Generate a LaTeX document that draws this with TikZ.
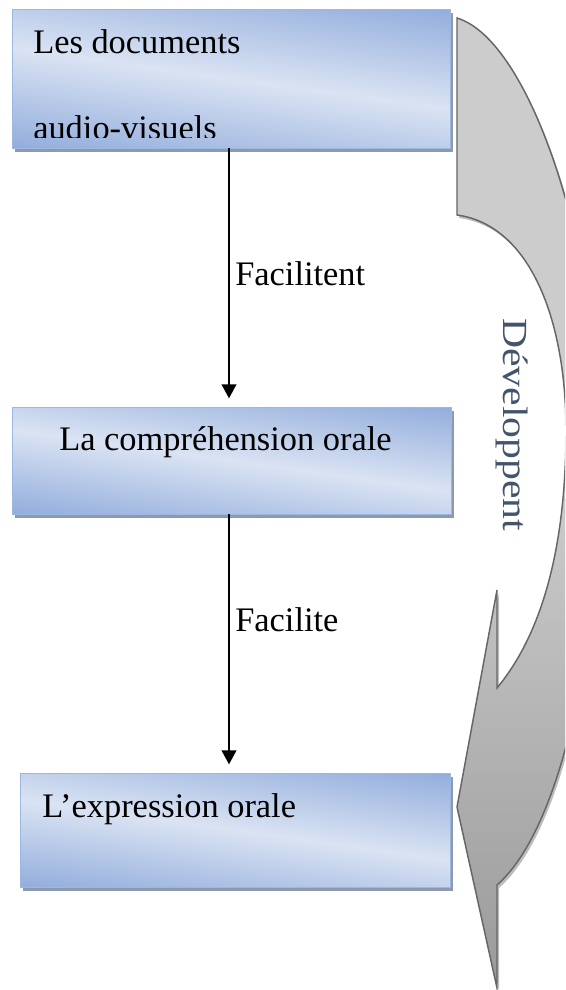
\documentclass[tikz,border=0pt]{standalone}
\usepackage{fontspec}
\setmainfont{Liberation Serif}
\usetikzlibrary{arrows.meta}
\definecolor{bdark}{HTML}{8EAADB}
\definecolor{blight}{HTML}{DAE3F3}
\definecolor{bborder}{HTML}{9DB8E0}
\definecolor{bshadow}{HTML}{8C99AF}
\definecolor{gtop}{HTML}{CCCCCC}
\definecolor{gbot}{HTML}{9A9A9A}
\definecolor{gline}{HTML}{666666}
\definecolor{gshadow}{HTML}{BDBDBD}
\definecolor{txtblue}{HTML}{44546A}
\pgfdeclareverticalshading{boxgrad}{100bp}{color(0bp)=(bdark); color(20bp)=(bdark); color(50bp)=(blight); color(80bp)=(bdark); color(100bp)=(bdark)}
\pgfdeclareverticalshading{arrowgrad}{100bp}{color(0bp)=(gbot); color(25bp)=(gbot); color(51bp)=(gtop); color(100bp)=(gtop)}
\begin{document}
\begin{tikzpicture}[x=0.75pt,y=-0.75pt,
  box/.style={draw=bborder, line width=0.75pt, shade, shading=boxgrad, shading angle=-8,
    inner sep=0pt, outer sep=0pt,
    preaction={fill=bshadow, transform canvas={xshift=2.5pt,yshift=-3pt}}},
  txt/.style={anchor=base west, inner sep=0pt, font=\fontsize{25.8}{31}\selectfont},
  conn/.style={line width=1.5pt, -{Triangle[width=11pt,length=10.5pt]}, shorten >=6.5pt}]
\useasboundingbox (0,0) rectangle (565,990);
\clip (0,0) rectangle (565,990);
% curved arrow "Développent"
\def\arrowpath{(457,18) .. controls (530,40) and (600,250) .. (600,450)
  .. controls (600,650) and (560,830) .. (497,885) -- (497,988) -- (457,807)
  -- (497,590) -- (497,688) .. controls (545,630) and (566,540) .. (566,430)
  .. controls (566,320) and (530,225) .. (457,215) -- cycle}
\fill[gshadow, shift={(2,3)}] \arrowpath;
\path[shade, shading=arrowgrad, draw=gline, line width=1.1pt, line join=miter] \arrowpath;
\node[rotate=-90, anchor=base west, inner sep=0pt, text=txtblue,
  font=\fontsize{26.5}{31}\selectfont] (dev) at (503,318) {\scalebox{1.18}[1]{Développent}};
% boxes
\node[box, minimum width=328.5pt, minimum height=104.25pt] (b1) at (231,78.5) {};
\node[box, minimum width=329.25pt, minimum height=80.25pt] (b2) at (231.5,460.5) {};
\node[box, minimum width=322.5pt, minimum height=85.5pt] (b3) at (235,830) {};
% texts
\node[txt] (t1) at (33,53) {Les documents};
\begin{scope}
\clip (0,0) rectangle (565,137.5);
\node[txt] (t1b) at (33,139) {audio-visuels};
\end{scope}
\node[txt] (t2) at (59,450) {La compréhension orale};
\node[txt] (t3) at (42,817) {L’expression orale};
% connectors
\coordinate (lx) at (229,0);
\draw[conn] (b1.south -| lx) -- (b2.north -| lx);
\draw[conn] (b2.south -| lx) -- (b3.north -| lx);
\node[txt] (l1) at (235,285) {Facilitent};
\node[txt] (l2) at (235,631) {Facilite};
\end{tikzpicture}
\end{document}
